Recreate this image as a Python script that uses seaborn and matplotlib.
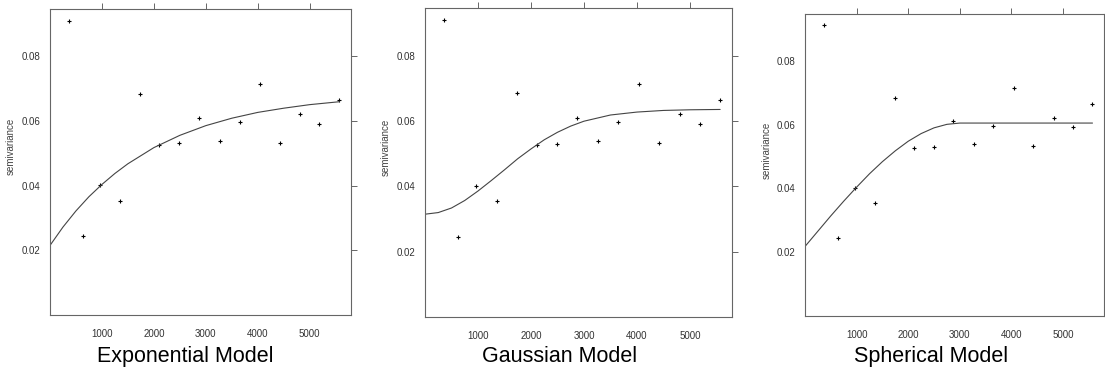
import matplotlib
matplotlib.use("Agg")
import matplotlib.pyplot as plt
import seaborn as sns
import pandas as pd

# empirical semivariogram (same points in all three panels)
dist = [365, 632, 970, 1355, 1735, 2108, 2490, 2873, 3273, 3650, 4040, 4418, 4815, 5185, 5570]
gamma = [0.0911, 0.0244, 0.0402, 0.0354, 0.0685, 0.0527, 0.0531, 0.0611, 0.0540,
         0.0597, 0.0715, 0.0533, 0.0622, 0.0592, 0.0666]

# fitted model lines
exp_h = [0, 250, 500, 750, 1000, 1250, 1500, 2000, 2500, 3000, 3500, 4000, 4500, 5000, 5570]
exp_g = [0.0215, 0.0272, 0.0322, 0.0366, 0.0404, 0.0438, 0.0468, 0.0518, 0.0556,
         0.0586, 0.0609, 0.0627, 0.0640, 0.0651, 0.0660]

gau_h = [0, 250, 500, 750, 1000, 1250, 1500, 1750, 2000, 2250, 2500, 2750, 3000,
         3500, 4000, 4500, 5000, 5570]
gau_g = [0.0315, 0.0320, 0.0334, 0.0357, 0.0386, 0.0418, 0.0451, 0.0485, 0.0515,
         0.0543, 0.0566, 0.0585, 0.0600, 0.0619, 0.0628, 0.0633, 0.0635, 0.0636]

sph_h = [0, 250, 500, 750, 1000, 1250, 1500, 1750, 2000, 2250, 2500, 2750, 3000, 5570]
sph_g = [0.0218, 0.0266, 0.0314, 0.0360, 0.0404, 0.0446, 0.0484, 0.0518, 0.0548,
         0.0572, 0.0590, 0.0601, 0.0605, 0.0605]

titles = ["Exponential Model", "Gaussian Model", "Spherical Model"]
xticks = [1000, 2000, 3000, 4000, 5000]
yticks = [0.02, 0.04, 0.06, 0.08]

sns.set_style("white")
plt.rcParams['font.family'] = ['Liberation Sans', 'DejaVu Sans']

fig = plt.figure(figsize=(11.05, 3.78), dpi=100)

# axes boxes in figure fractions [left, bottom, width, height]
boxes = [
    [0.0452, 0.1667, 0.2724, 0.8095],
    [0.3846, 0.1614, 0.2778, 0.8175],
    [0.7285, 0.1640, 0.2706, 0.7990],
]
title_x = [0.168, 0.506, 0.843]
ylab_x = [0.010, 0.349, 0.694]

points = pd.DataFrame({"dist": dist, "gamma": gamma})
models = [(exp_h, exp_g), (gau_h, gau_g), (sph_h, sph_g)]
frame_col = "#666666"

for i, (h, g) in enumerate(models):
    ax = fig.add_axes(boxes[i])
    sns.lineplot(x=h, y=g, ax=ax, color="#444444", linewidth=0.8)
    sns.scatterplot(data=points, x="dist", y="gamma", ax=ax, marker="+",
                    color="black", s=7, linewidth=0.8)
    ax.set_xlim(0, 5793)
    ax.set_ylim(0, 0.0947)
    ax.set_xticks(xticks)
    ax.set_yticks(yticks)
    ax.set_xticklabels([str(t) for t in xticks])
    ax.set_yticklabels([f"{t:.2f}" for t in yticks])
    ax.set_xlabel("")
    ax.set_ylabel("")
    ax.tick_params(direction="out", length=4, width=0.7, colors=frame_col,
                   labelcolor="#333333", labelsize=7, pad=3,
                   top=True, right=True, labeltop=False, labelright=False)
    ax.tick_params(axis="x", pad=6)
    for sp in ax.spines.values():
        sp.set_color(frame_col)
        sp.set_linewidth(0.8)
    fig.text(ylab_x[i], boxes[i][1] + boxes[i][3] * 0.55, "semivariance",
             rotation=90, ha="center", va="center", fontsize=7, color="#444444")
    fig.text(title_x[i], 0.056, titles[i], ha="center", va="center",
             fontsize=15.5, color="black")

fig.savefig("out.png", dpi=100)
plt.close(fig)
